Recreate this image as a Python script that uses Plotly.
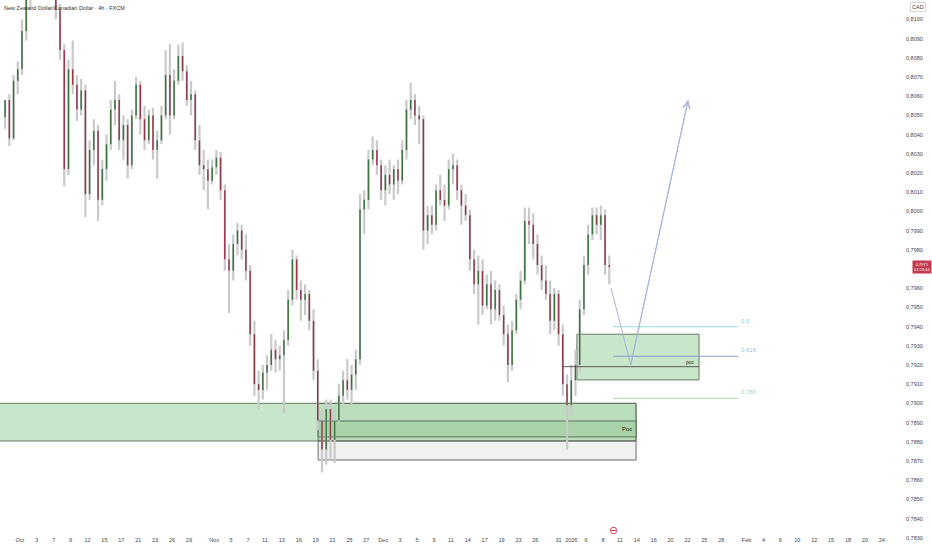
import numpy as np
import plotly.graph_objects as go

# ---------------- data ----------------
title_text = "New Zealand Dollar/Canadian Dollar · 4h · FXCM"
calendar_start = "2025-09-29"
holidays = ["2025-12-25", "2026-01-01"]

# 12-hour sessions starting 2025-09-29
opens = [0.8049, 0.8058, 0.8038, 0.8068, 0.8074, 0.8094, 0.8113, 0.8118, 0.8123, 0.8121,
         0.8116, 0.8123, 0.8121, 0.8105, 0.8084, 0.8022, 0.8074, 0.8066, 0.8053, 0.8063,
         0.8009, 0.8032, 0.8042, 0.8006, 0.8022, 0.8035, 0.8053, 0.8058, 0.8037, 0.8045,
         0.8024, 0.8050, 0.8066, 0.8048, 0.8037, 0.8050, 0.8032, 0.8037, 0.8050, 0.8071,
         0.8050, 0.8068, 0.8081, 0.8073, 0.8058, 0.8061, 0.8037, 0.8024, 0.8022, 0.8016,
         0.8023, 0.8028, 0.8011, 0.7975, 0.7969, 0.7983, 0.7990, 0.7980, 0.7969, 0.7936,
         0.7910, 0.7907, 0.7916, 0.7920, 0.7928, 0.7923, 0.7925, 0.7933, 0.7954, 0.7975,
         0.7959, 0.7954, 0.7957, 0.7943, 0.7917, 0.7891, 0.7876, 0.7897, 0.7881, 0.7891,
         0.7904, 0.7912, 0.7907, 0.7915, 0.7923, 0.8001, 0.8006, 0.8027, 0.8032, 0.8024,
         0.8011, 0.8019, 0.8014, 0.8022, 0.8016, 0.8032, 0.8053, 0.8058, 0.8050, 0.8048,
         0.7990, 0.7998, 0.7993, 0.8011, 0.8006, 0.8003, 0.8022, 0.8024, 0.8011, 0.8003,
         0.7998, 0.7975, 0.7962, 0.7969, 0.7951, 0.7962, 0.7949, 0.7959, 0.7946, 0.7936,
         0.7920, 0.7938, 0.7954, 0.7964, 0.7995, 0.7993, 0.7983, 0.7972, 0.7964, 0.7957,
         0.7943, 0.7957, 0.7936, 0.7910, 0.7899, 0.7912, 0.7920, 0.7949, 0.7972, 0.7988,
         0.7998, 0.7993, 0.7998, 0.7972]
highs = [0.8058, 0.8061, 0.8071, 0.8078, 0.8100, 0.8118, 0.8126, 0.8131, 0.8134, 0.8130,
         0.8128, 0.8134, 0.8126, 0.8108, 0.8087, 0.8079, 0.8089, 0.8071, 0.8069, 0.8066,
         0.8037, 0.8048, 0.8045, 0.8027, 0.8040, 0.8058, 0.8068, 0.8061, 0.8050, 0.8048,
         0.8053, 0.8070, 0.8068, 0.8055, 0.8053, 0.8054, 0.8042, 0.8055, 0.8084, 0.8087,
         0.8074, 0.8087, 0.8088, 0.8076, 0.8068, 0.8063, 0.8045, 0.8032, 0.8027, 0.8027,
         0.8032, 0.8031, 0.8014, 0.7983, 0.7988, 0.7994, 0.7993, 0.7988, 0.7972, 0.7943,
         0.7917, 0.7920, 0.7925, 0.7936, 0.7933, 0.7930, 0.7938, 0.7959, 0.7980, 0.7977,
         0.7964, 0.7962, 0.7959, 0.7949, 0.7923, 0.7897, 0.7902, 0.7902, 0.7897, 0.7910,
         0.7917, 0.7923, 0.7920, 0.7928, 0.8009, 0.8011, 0.8032, 0.8039, 0.8037, 0.8027,
         0.8024, 0.8027, 0.8024, 0.8027, 0.8037, 0.8058, 0.8067, 0.8061, 0.8055, 0.8050,
         0.8003, 0.8003, 0.8014, 0.8019, 0.8014, 0.8027, 0.8030, 0.8027, 0.8014, 0.8009,
         0.8001, 0.7980, 0.7977, 0.7975, 0.7967, 0.7969, 0.7964, 0.7962, 0.7951, 0.7941,
         0.7943, 0.7957, 0.7969, 0.8002, 0.8002, 0.7999, 0.7988, 0.7977, 0.7972, 0.7964,
         0.7960, 0.7959, 0.7941, 0.7915, 0.7920, 0.7928, 0.7954, 0.7977, 0.7993, 0.8002,
         0.8002, 0.8003, 0.8001, 0.7977]
lows = [0.8043, 0.8034, 0.8037, 0.8061, 0.8071, 0.8089, 0.8105, 0.8114, 0.8116, 0.8113,
        0.8112, 0.8118, 0.8100, 0.8079, 0.8013, 0.8019, 0.8061, 0.8047, 0.8050, 0.7997,
        0.8006, 0.8024, 0.7995, 0.8003, 0.8016, 0.8032, 0.8045, 0.8032, 0.8027, 0.8017,
        0.8022, 0.8048, 0.8040, 0.8032, 0.8035, 0.8027, 0.8017, 0.8035, 0.8048, 0.8040,
        0.8048, 0.8066, 0.8068, 0.8055, 0.8050, 0.8032, 0.8019, 0.8011, 0.8001, 0.8014,
        0.8019, 0.8006, 0.7969, 0.7947, 0.7964, 0.7977, 0.7975, 0.7964, 0.7930, 0.7904,
        0.7897, 0.7902, 0.7907, 0.7917, 0.7916, 0.7917, 0.7895, 0.7930, 0.7951, 0.7954,
        0.7943, 0.7946, 0.7938, 0.7912, 0.7886, 0.7864, 0.7868, 0.7870, 0.7869, 0.7889,
        0.7897, 0.7902, 0.7899, 0.7907, 0.7920, 0.7988, 0.8001, 0.8024, 0.8019, 0.8006,
        0.8003, 0.8009, 0.8006, 0.8009, 0.8014, 0.8027, 0.8048, 0.8045, 0.8035, 0.7980,
        0.7983, 0.7988, 0.7990, 0.8003, 0.7995, 0.8001, 0.8014, 0.8006, 0.7993, 0.7995,
        0.7969, 0.7957, 0.7941, 0.7946, 0.7949, 0.7941, 0.7943, 0.7943, 0.7930, 0.7911,
        0.7917, 0.7936, 0.7949, 0.7962, 0.7983, 0.7975, 0.7967, 0.7959, 0.7954, 0.7936,
        0.7938, 0.7930, 0.7904, 0.7876, 0.7894, 0.7904, 0.7917, 0.7946, 0.7967, 0.7985,
        0.7988, 0.7985, 0.7967, 0.7962]
closes = [0.8058, 0.8038, 0.8068, 0.8074, 0.8094, 0.8113, 0.8118, 0.8123, 0.8121, 0.8116,
          0.8123, 0.8121, 0.8105, 0.8084, 0.8022, 0.8074, 0.8066, 0.8053, 0.8063, 0.8009,
          0.8032, 0.8042, 0.8006, 0.8022, 0.8035, 0.8053, 0.8058, 0.8037, 0.8045, 0.8024,
          0.8050, 0.8066, 0.8048, 0.8037, 0.8050, 0.8032, 0.8037, 0.8050, 0.8071, 0.8050,
          0.8068, 0.8081, 0.8073, 0.8058, 0.8061, 0.8037, 0.8024, 0.8022, 0.8016, 0.8023,
          0.8028, 0.8011, 0.7975, 0.7969, 0.7983, 0.7990, 0.7980, 0.7969, 0.7936, 0.7910,
          0.7907, 0.7916, 0.7920, 0.7928, 0.7923, 0.7925, 0.7933, 0.7954, 0.7975, 0.7959,
          0.7954, 0.7957, 0.7943, 0.7917, 0.7891, 0.7876, 0.7897, 0.7881, 0.7891, 0.7904,
          0.7912, 0.7907, 0.7915, 0.7923, 0.8001, 0.8006, 0.8027, 0.8032, 0.8024, 0.8011,
          0.8019, 0.8014, 0.8022, 0.8016, 0.8032, 0.8053, 0.8058, 0.8050, 0.8048, 0.7990,
          0.7998, 0.7993, 0.8011, 0.8006, 0.8003, 0.8022, 0.8024, 0.8011, 0.8003, 0.7998,
          0.7975, 0.7962, 0.7969, 0.7951, 0.7962, 0.7949, 0.7959, 0.7946, 0.7936, 0.7920,
          0.7938, 0.7954, 0.7964, 0.7995, 0.7993, 0.7983, 0.7972, 0.7964, 0.7957, 0.7943,
          0.7957, 0.7936, 0.7910, 0.7899, 0.7912, 0.7920, 0.7949, 0.7972, 0.7988, 0.7998,
          0.7993, 0.7998, 0.7972, 0.7971]

# time-scale labels; Dec 31 and the year mark sit where the short holiday sessions compress the scale
tick_dates = ["2025-09-29", "2025-10-01", "2025-10-03", "2025-10-07", "2025-10-09", "2025-10-12",
              "2025-10-15", "2025-10-17", "2025-10-21", "2025-10-23", "2025-10-26", "2025-10-29",
              "2025-11-02", "2025-11-05", "2025-11-07", "2025-11-11", "2025-11-13", "2025-11-16",
              "2025-11-19", "2025-11-21", "2025-11-25", "2025-11-27", "2025-11-30", "2025-12-03",
              "2025-12-05", "2025-12-09", "2025-12-11", "2025-12-14", "2025-12-17", "2025-12-19",
              "2025-12-23", "2025-12-26", "2025-12-30 18:00", "2026-01-02 06:00", "2026-01-06", "2026-01-08",
              "2026-01-11", "2026-01-14", "2026-01-16", "2026-01-20", "2026-01-22", "2026-01-25",
              "2026-01-28", "2026-02-01", "2026-02-04", "2026-02-06", "2026-02-10", "2026-02-12",
              "2026-02-15", "2026-02-18", "2026-02-20", "2026-02-24", "2026-02-26"]
tick_labels = ["29", "Oct", "3", "7", "9", "12", "15", "17", "21", "23", "26", "29",
               "Nov", "5", "7", "11", "13", "16", "19", "21", "25", "27", "Dec", "3",
               "5", "9", "11", "14", "17", "19", "23", "26", "31", "2026", "6", "8",
               "11", "14", "16", "20", "22", "25", "28", "Feb", "4", "6", "10", "12",
               "15", "18", "20", "24", "26"]
# price-scale labels shown (0,7970 is hidden under the last-price tag)
price_ticks = [0.7830, 0.7840, 0.7850, 0.7860, 0.7870, 0.7880, 0.7890, 0.7900, 0.7910,
               0.7920, 0.7930, 0.7940, 0.7950, 0.7960, 0.7980, 0.7990, 0.8000,
               0.8010, 0.8020, 0.8030, 0.8040, 0.8050, 0.8060, 0.8070, 0.8080, 0.8090, 0.8100]
price_tick_text = ["0,7830", "0,7840", "0,7850", "0,7860", "0,7870", "0,7880", "0,7890", "0,7900",
                   "0,7910", "0,7920", "0,7930", "0,7940", "0,7950", "0,7960", "0,7980", "0,7990",
                   "0,8000", "0,8010", "0,8020", "0,8030", "0,8040", "0,8050", "0,8060", "0,8070",
                   "0,8080", "0,8090", "0,8100"]

last_price = 0.7971
last_price_text = "0,7971<br>01:23:44"

# drawings
demand_zone = {"start": "2025-09-01", "end": "2026-01-13 22:00", "top": 0.7900, "bottom": 0.78804}
profile_box = {"start": "2025-11-19 07:00", "end": "2026-01-13 22:00", "top": 0.7900, "bottom": 0.78705,
               "poc_top": 0.78908, "poc_bottom": 0.78825}
upper_zone = {"start": "2026-01-02 22:00", "end": "2026-01-23 09:00", "top": 0.79360, "bottom": 0.79122,
              "poc": 0.79191, "poc_start": "2025-12-31 06:00"}
fib = {"start": "2026-01-09 05:00", "end": "2026-01-30 00:00", "level0": 0.80051, "level1": 0.78747}
fib_levels = [0.5, 0.618, 0.786]
fib_texts = ["0,5", "0,618", "0,786"]
fib_colors = ["#8fdce6", "#8e9bd3", "#a9d8a6"]
fib_text_colors = ["#7fd3df", "#8fc9e0", "#a5d6a7"]
path_times = ["2026-01-08 23:00", "2026-01-13 07:00", "2026-01-22 02:00"]
path_prices = [0.79601, 0.79200, 0.80580]
event_time = "2026-01-09 07:00"


def day_pos(ts):
    """Trading-day position of a timestamp (weekends and holidays removed)."""
    date, _, clock = ts.partition(" ")
    hours = int(clock.split(":")[0]) if clock else 0
    return float(np.busday_count(calendar_start, date, holidays=holidays)) + hours / 24.0


# ---------------- figure ----------------
n = len(opens)
xs = np.arange(n) / 2.0 + 0.25
up_col, dn_col, wick_col = "#3f7342", "#93394c", "#c9c9c9"
FONT = "Liberation Sans"
AXIS_FONT = dict(size=5.5, color="#444", family=FONT)

fig = go.Figure()

shapes = []
shapes.append(dict(type="rect", xref="x", yref="y", layer="below",
                   x0=day_pos(demand_zone["start"]), x1=day_pos(demand_zone["end"]),
                   y0=demand_zone["bottom"], y1=demand_zone["top"],
                   fillcolor="#c8e6c9", line=dict(color="#6b7a6b", width=1)))
shapes.append(dict(type="rect", xref="x", yref="y", layer="below",
                   x0=day_pos(profile_box["start"]), x1=day_pos(profile_box["end"]),
                   y0=profile_box["bottom"], y1=demand_zone["bottom"],
                   fillcolor="#f1f1f1", line=dict(color="#6b6b6b", width=1)))
shapes.append(dict(type="rect", xref="x", yref="y", layer="below",
                   x0=day_pos(profile_box["start"]), x1=day_pos(profile_box["end"]),
                   y0=demand_zone["bottom"], y1=profile_box["top"],
                   fillcolor="rgba(160,205,160,0.35)", line=dict(color="#5f6f5f", width=1)))
shapes.append(dict(type="rect", xref="x", yref="y", layer="below",
                   x0=day_pos(profile_box["start"]), x1=day_pos(profile_box["end"]),
                   y0=profile_box["poc_bottom"], y1=profile_box["poc_top"],
                   fillcolor="#a8d3a8", line=dict(color="#5f6f5f", width=1)))
shapes.append(dict(type="rect", xref="x", yref="y", layer="below",
                   x0=day_pos(upper_zone["start"]), x1=day_pos(upper_zone["end"]),
                   y0=upper_zone["bottom"], y1=upper_zone["top"],
                   fillcolor="#c8e6c9", line=dict(color="#6b7a6b", width=1)))
shapes.append(dict(type="line", xref="x", yref="y", layer="above",
                   x0=day_pos(upper_zone["poc_start"]), x1=day_pos(upper_zone["end"]),
                   y0=upper_zone["poc"], y1=upper_zone["poc"],
                   line=dict(color="#5a5a5a", width=1)))

fib_x0, fib_x1 = day_pos(fib["start"]), day_pos(fib["end"])
for lvl, txt, col, tcol in zip(fib_levels, fib_texts, fib_colors, fib_text_colors):
    price = fib["level0"] + (fib["level1"] - fib["level0"]) * lvl
    shapes.append(dict(type="line", xref="x", yref="y", x0=fib_x0, x1=fib_x1,
                       y0=price, y1=price, line=dict(color=col, width=1)))
    fig.add_annotation(x=fib_x1, y=price, xref="x", yref="y", text=txt, showarrow=False,
                       xanchor="left", yanchor="bottom", xshift=1, yshift=1,
                       font=dict(size=6, color=tcol, family=FONT))

# wicks
wx, wy = [], []
for x, h, l in zip(xs, highs, lows):
    wx += [x, x, None]
    wy += [l, h, None]
fig.add_trace(go.Scatter(x=wx, y=wy, mode="lines", line=dict(color=wick_col, width=2.2),
                         hoverinfo="skip"))

# bodies (drawn as thick segments so they sit above the wicks)
for want_up, col in ((True, up_col), (False, dn_col)):
    bx, by = [], []
    for x, o, c in zip(xs, opens, closes):
        if (c >= o) == want_up:
            lo, hi = min(o, c), max(o, c)
            if hi - lo < 0.00004:
                hi = lo + 0.00004
            bx += [x, x, None]
            by += [lo, hi, None]
    fig.add_trace(go.Scatter(x=bx, y=by, mode="lines", line=dict(color=col, width=1.5),
                             hoverinfo="skip"))

# projection path
pxs = [day_pos(t) for t in path_times]
fig.add_trace(go.Scatter(x=pxs, y=path_prices, mode="lines",
                         line=dict(color="#a7b0e0", width=1), hoverinfo="skip"))
fig.add_annotation(x=pxs[-1], y=path_prices[-1], ax=pxs[-2], ay=path_prices[-2],
                   xref="x", yref="y", axref="x", ayref="y", showarrow=True,
                   arrowhead=5, arrowsize=1.4, arrowwidth=1, arrowcolor="#a7b0e0", text="")

# price-scale labels (drawn as text so the lowest one is not dropped near the time scale)
for p, t in zip(price_ticks, price_tick_text):
    fig.add_annotation(x=1.0, y=p, xref="paper", yref="y", text=t, showarrow=False,
                       xanchor="left", xshift=7, font=AXIS_FONT)

# labels
fig.add_annotation(x=day_pos(profile_box["end"]), y=(profile_box["poc_top"] + profile_box["poc_bottom"]) / 2,
                   xref="x", yref="y", text="Poc", showarrow=False, xanchor="right", xshift=-2,
                   font=dict(size=6, color="#222", family=FONT))
fig.add_annotation(x=day_pos(upper_zone["end"]), y=upper_zone["poc"], xref="x", yref="y", text="poc",
                   showarrow=False, xanchor="right", yanchor="bottom", xshift=-2, yshift=0,
                   font=dict(size=5, color="#222", family=FONT))
fig.add_annotation(x=0.002, y=0.995, xref="paper", yref="paper", text=title_text, showarrow=False,
                   xanchor="left", yanchor="top", font=dict(size=5.5, color="#333", family=FONT))
fig.add_annotation(x=1.0, y=1.0, xref="paper", yref="paper", text="CAD", showarrow=False,
                   xanchor="center", yanchor="top", xshift=21, yshift=-2, bordercolor="#d8d8d8",
                   borderwidth=1, borderpad=1, bgcolor="white",
                   font=dict(size=5.5, color="#444", family=FONT))
fig.add_annotation(x=1.0, y=last_price, xref="paper", yref="y", text=last_price_text,
                   showarrow=False, xanchor="right", xshift=35, align="center", bgcolor="#c7394f",
                   borderpad=1, font=dict(size=4, color="white", family=FONT))
fig.add_annotation(x=day_pos(event_time), y=0.02, xref="x", yref="paper", text="⊖", showarrow=False,
                   font=dict(size=11, color="#c9404f", family="DejaVu Sans"))

fig.update_layout(
    width=932, height=550, margin=dict(l=0, r=35, t=0, b=0, autoexpand=False),
    paper_bgcolor="white", plot_bgcolor="white", showlegend=False,
    separators=", ", shapes=shapes,
    xaxis=dict(range=[-0.355, 105.8], tickmode="array", automargin=False, tickangle=0,
               tickvals=[day_pos(d) for d in tick_dates], ticktext=tick_labels,
               ticklabelposition="inside", ticklabelstandoff=4, ticks="", showgrid=False,
               zeroline=False, showline=False, tickfont=AXIS_FONT),
    yaxis=dict(side="right", range=[0.78236, 0.81101], automargin=False,
               showticklabels=False, ticks="", showgrid=False, zeroline=False, showline=False),
)

fig.write_html("out.html", config={"displayModeBar": False},
               post_script="document.body.style.margin='0';document.body.style.overflow='hidden';")
